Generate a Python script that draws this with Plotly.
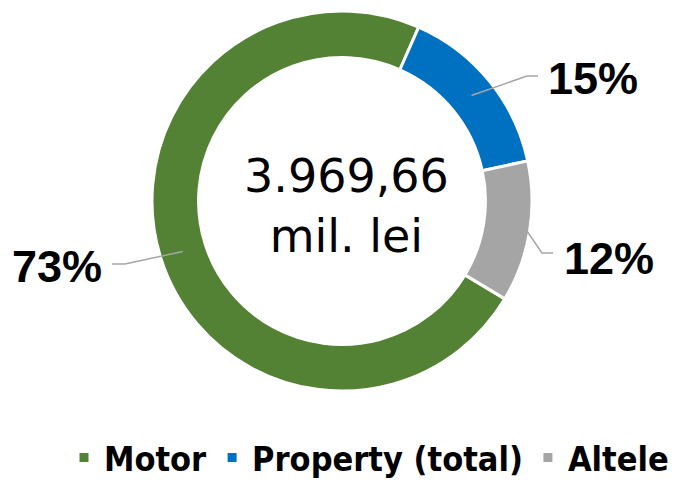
import math
import plotly.graph_objects as go

# ---- data ----
categories = ["Motor", "Property (total)", "Altele"]
shares = [73, 15, 12]
pct_labels = ["73%", "15%", "12%"]
center_value = "3.969,66"
center_unit = "mil. lei"

# ---- style ----
colors = ["#548235", "#0070C0", "#A5A5A5"]
W, H = 694, 480
CX, CY, R = 342, 201, 190       # pie centre / radius in px
HOLE = 0.755
ROTATION = 121
# label text centres (px) and elbow points of leader lines
label_pos = [(57, 266), (593, 79), (609, 258)]
elbow_pos = [(125, 264), (527, 76), (542, 253)]
line_start_r = [167, 167, 188]


def px(x, y):
    return x / W, 1 - y / H


fig = go.Figure(go.Pie(
    labels=categories, values=shares, sort=False, direction="clockwise",
    rotation=ROTATION, hole=HOLE, textinfo="none", hoverinfo="label+percent",
    marker=dict(colors=colors, line=dict(color="white", width=3)),
    domain=dict(x=[(CX - R) / W, (CX + R) / W], y=[1 - (CY + R) / H, 1 - (CY - R) / H]),
))

total = sum(shares)
cum = 0
shapes, annotations = [], []
for i, v in enumerate(shares):
    mid = ROTATION + (cum + v / 2) / total * 360
    cum += v
    a = math.radians(mid)
    sx = CX + line_start_r[i] * math.sin(a)
    sy = CY - line_start_r[i] * math.cos(a)
    ex, ey = elbow_pos[i]
    lx, ly = label_pos[i]
    hx = ex - 13 if lx < CX else ex + 11
    p0, p1, p2 = px(sx, sy), px(ex, ey), px(hx, ey)
    shapes.append(dict(type="path", xref="paper", yref="paper",
                       path=f"M {p0[0]} {p0[1]} L {p1[0]} {p1[1]} L {p2[0]} {p2[1]}",
                       line=dict(color="#A6A6A6", width=1.5)))
    tx, ty = px(lx, ly)
    annotations.append(dict(x=tx, y=ty, xref="paper", yref="paper", text=pct_labels[i],
                            showarrow=False, xanchor="center", yanchor="middle",
                            font=dict(family="Liberation Sans, Arial", size=45, color="black", weight="bold")))

cx, cy = px(346, 206)
annotations.append(dict(x=cx, y=cy, xref="paper", yref="paper",
                        text=f"{center_value}<br>{center_unit}", showarrow=False,
                        xanchor="center", yanchor="middle",
                        font=dict(family="DejaVu Sans", size=46, color="black")))

lgx, lgy = px(64, 458)
fig.update_layout(
    width=W, height=H, margin=dict(l=0, r=0, t=0, b=0, autoexpand=False),
    paper_bgcolor="white", plot_bgcolor="white",
    shapes=shapes, annotations=annotations,
    legend=dict(orientation="h", x=lgx, y=lgy, xanchor="left", yanchor="middle",
                font=dict(family="DejaVu Sans Condensed, Liberation Sans, Arial", size=34,
                          color="black", weight="bold"),
                bgcolor="rgba(0,0,0,0)", itemclick=False),
    showlegend=True,
)
fig.write_html("out.html", config={"displayModeBar": False},
               post_script="document.body.style.margin='0';")
